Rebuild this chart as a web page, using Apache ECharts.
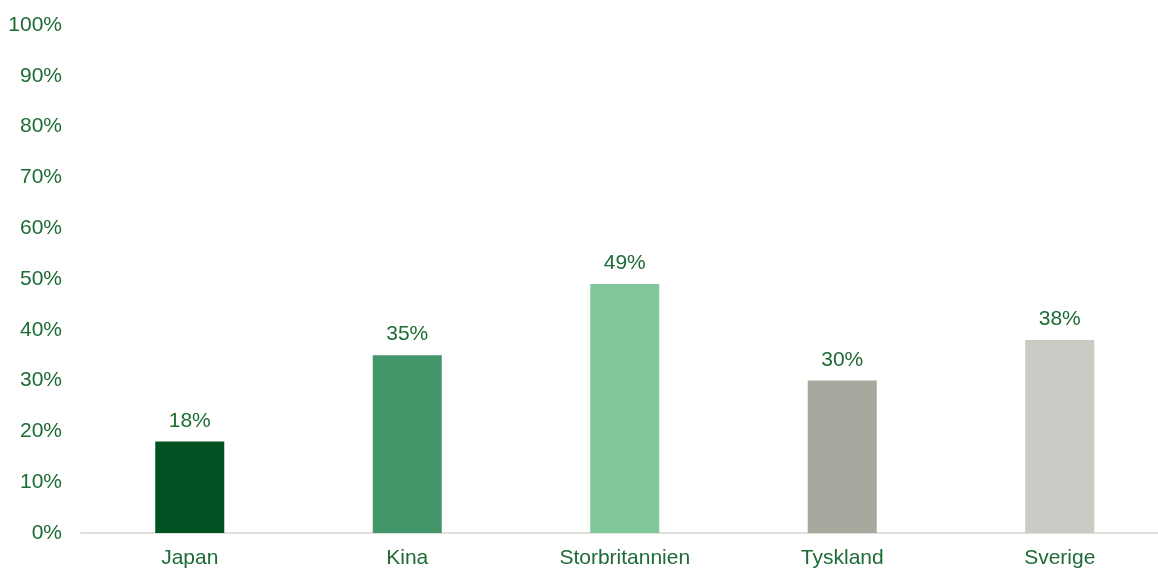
<!DOCTYPE html>
<html><head><meta charset="utf-8">
<script src="https://cdn.jsdelivr.net/npm/echarts@6/dist/echarts.min.js"></script>
<style>html,body{margin:0;padding:0;background:#fff;overflow:hidden;width:1158px;height:570px}#c{width:1169px;height:570px}</style>
</head><body><div id="c"></div>
<script>
const categories = ['Japan', 'Kina', 'Storbritannien', 'Tyskland', 'Sverige'];
const values = [18, 35, 49, 30, 38];
const barColors = ['#005222', '#43956A', '#80C79A', '#A8A89E', '#CBCBC5'];
const textColor = '#1D6B35';
const chart = echarts.init(document.getElementById('c'));
chart.setOption({
  animation: false,
  grid: { left: 81, top: 25, right: 0.5, bottom: 37, containLabel: false },
  xAxis: {
    type: 'category', data: categories,
    axisLine: { lineStyle: { color: '#E0DFDA', width: 2 } },
    axisTick: { show: false },
    axisLabel: { color: textColor, fontFamily: 'Liberation Sans, Arial', fontSize: 21, margin: 15 }
  },
  yAxis: {
    type: 'value', min: 0, max: 100, interval: 10,
    splitLine: { show: false },
    axisLine: { show: false }, axisTick: { show: false },
    axisLabel: { color: textColor, fontFamily: 'Liberation Sans, Arial', fontSize: 21, margin: 19, formatter: '{value}%' }
  },
  series: [{
    type: 'bar', barWidth: 69,
    data: values.map((v, i) => ({ value: v, itemStyle: { color: barColors[i] } })),
    label: { show: true, position: 'top', distance: 10, color: textColor, fontFamily: 'Liberation Sans, Arial', fontSize: 21, formatter: '{c}%' }
  }]
});
</script></body></html>
